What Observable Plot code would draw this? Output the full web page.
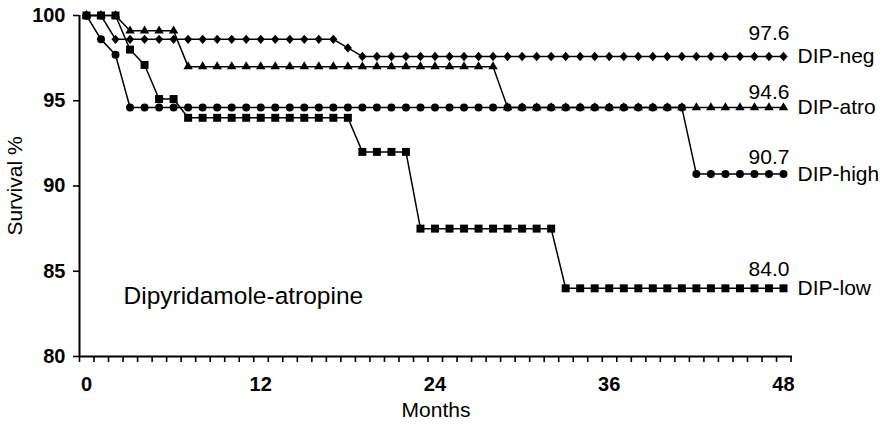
<!DOCTYPE html>
<html>
<head>
<meta charset="utf-8">
<script src="https://cdn.jsdelivr.net/npm/d3@7"></script>
<script src="https://cdn.jsdelivr.net/npm/@observablehq/plot@0.6"></script>
<style>
  html, body { margin: 0; padding: 0; background: #fff; }
  #chart svg { display: block; }
</style>
</head>
<body>
<div id="chart"></div>
<script>
// Follow-up month of each survival estimate
const months = [
  0, 1, 2, 3, 4, 5, 6, 7, 8, 9, 10, 11, 12, 13, 14, 15, 16, 17, 18, 19, 20, 21, 22, 23, 24,
  25, 26, 27, 28, 29, 30, 31, 32, 33, 34, 35, 36, 37, 38, 39, 40, 41, 42, 43, 44, 45, 46, 47, 48
];

// Survival % per month, one list per group
const dipNeg = [
  100, 100, 98.6, 98.6, 98.6, 98.6, 98.6, 98.6, 98.6, 98.6, 98.6, 98.6, 98.6, 98.6, 98.6, 98.6, 98.6, 98.6,
  98.1, 97.6, 97.6, 97.6, 97.6, 97.6, 97.6, 97.6, 97.6, 97.6, 97.6, 97.6, 97.6, 97.6, 97.6, 97.6, 97.6,
  97.6, 97.6, 97.6, 97.6, 97.6, 97.6, 97.6, 97.6, 97.6, 97.6, 97.6, 97.6, 97.6, 97.6
];
const dipAtro = [
  100, 100, 100, 99.1, 99.1, 99.1, 99.1, 97.0, 97.0, 97.0, 97.0, 97.0, 97.0, 97.0, 97.0, 97.0, 97.0, 97.0,
  97.0, 97.0, 97.0, 97.0, 97.0, 97.0, 97.0, 97.0, 97.0, 97.0, 97.0, 94.6, 94.6, 94.6, 94.6, 94.6, 94.6,
  94.6, 94.6, 94.6, 94.6, 94.6, 94.6, 94.6, 94.6, 94.6, 94.6, 94.6, 94.6, 94.6, 94.6
];
const dipHigh = [
  100, 98.6, 97.7, 94.6, 94.6, 94.6, 94.6, 94.6, 94.6, 94.6, 94.6, 94.6, 94.6, 94.6, 94.6, 94.6, 94.6, 94.6,
  94.6, 94.6, 94.6, 94.6, 94.6, 94.6, 94.6, 94.6, 94.6, 94.6, 94.6, 94.6, 94.6, 94.6, 94.6, 94.6, 94.6,
  94.6, 94.6, 94.6, 94.6, 94.6, 94.6, 94.6, 90.7, 90.7, 90.7, 90.7, 90.7, 90.7, 90.7
];
const dipLow = [
  100, 100, 100, 98.0, 97.1, 95.1, 95.1, 94.0, 94.0, 94.0, 94.0, 94.0, 94.0, 94.0, 94.0, 94.0, 94.0, 94.0,
  94.0, 92.0, 92.0, 92.0, 92.0, 87.5, 87.5, 87.5, 87.5, 87.5, 87.5, 87.5, 87.5, 87.5, 87.5, 84.0, 84.0,
  84.0, 84.0, 84.0, 84.0, 84.0, 84.0, 84.0, 84.0, 84.0, 84.0, 84.0, 84.0, 84.0, 84.0
];

const seriesNames = ["DIP-neg", "DIP-atro", "DIP-high", "DIP-low"];
const finalLabels = ["97.6", "94.6", "90.7", "84.0"];
const xTickLabels = [0, 12, 24, 36, 48];
const yTicks = [80, 85, 90, 95, 100];
const panelTitle = "Dipyridamole-atropine";

// ---- table built from the lists above ----
const seriesValues = [dipNeg, dipAtro, dipHigh, dipLow];
const rows = seriesNames.flatMap((name, i) =>
  months.map((m, j) => ({series: name, month: m, value: seriesValues[i][j]}))
);
const ends = seriesNames.map((name, i) => ({
  series: name,
  month: months[months.length - 1],
  value: seriesValues[i][seriesValues[i].length - 1],
  label: finalLabels[i]
}));

// marker shapes
const diamond = {
  draw(context, size) {
    const r = Math.sqrt(size / Math.PI);
    context.moveTo(0, -r * 1.15);
    context.lineTo(r, 0);
    context.lineTo(0, r * 1.15);
    context.lineTo(-r, 0);
    context.closePath();
  }
};
const style = {
  "DIP-neg":  {symbol: diamond,    r: 4.1, labelDy: -23},
  "DIP-atro": {symbol: "triangle", r: 3.5, labelDy: -15},
  "DIP-high": {symbol: "circle",   r: 4.0, labelDy: -17},
  "DIP-low":  {symbol: "square",   r: 4.5, labelDy: -19}
};

const font = "'Liberation Sans', Arial, Helvetica, sans-serif";
const labelSize = 21;
const tickFontSize = 20;
const xDomain = [-0.48, 48.62];
const monthTicks = d3.range(50).map(k => xDomain[0] + k);

const marks = [
  // axis lines
  Plot.ruleY([80], {stroke: "black", strokeWidth: 2}),
  Plot.ruleX([xDomain[0]], {stroke: "black", strokeWidth: 2}),
  // monthly tick marks
  Plot.axisX({ticks: monthTicks, tickSize: 6, tickFormat: () => "", strokeWidth: 1.6, label: null}),
  // y tick marks
  Plot.axisY({ticks: yTicks, tickSize: 6, tickFormat: () => "", strokeWidth: 1.6, label: null}),
  // tick numbers
  Plot.text(xTickLabels, {x: d => d, frameAnchor: "bottom", dy: 34, text: d => String(d),
    fontSize: tickFontSize, fontWeight: "bold", fill: "black"}),
  Plot.text(yTicks, {y: d => d, frameAnchor: "left", dx: -14, textAnchor: "end", text: d => String(d),
    fontSize: tickFontSize, fontWeight: "bold", fill: "black"}),
  // survival curves
  Plot.line(rows, {x: "month", y: "value", z: "series", stroke: "black", strokeWidth: 1.5})
];

for (const name of ["DIP-high", "DIP-atro", "DIP-neg", "DIP-low"]) {
  const s = style[name];
  marks.push(Plot.dot(rows.filter(d => d.series === name), {
    x: "month", y: "value", symbol: () => s.symbol, r: s.r, fill: "black", stroke: "none"
  }));
  const e = ends.filter(d => d.series === name);
  marks.push(Plot.text(e, {x: "month", y: "value", text: "label", dx: 6, dy: s.labelDy,
    textAnchor: "end", fontSize: labelSize, fill: "black"}));
  marks.push(Plot.text(e, {x: "month", y: "value", text: "series", dx: 14,
    textAnchor: "start", fontSize: labelSize, fill: "black"}));
}

marks.push(
  Plot.text([panelTitle], {frameAnchor: "bottom-left", dx: 44, dy: -53, textAnchor: "start",
    fontSize: 24.5, fill: "black"}),
  Plot.text(["Months"], {frameAnchor: "bottom", dy: 60, fontSize: labelSize, fill: "black"}),
  Plot.text(["Survival %"], {frameAnchor: "left", dx: -64, rotate: -90, textAnchor: "middle",
    fontSize: labelSize, fill: "black"})
);

const chart = Plot.plot({
  width: 884,
  height: 428,
  marginLeft: 79,
  marginRight: 92,
  marginTop: 15,
  marginBottom: 72,
  style: {fontFamily: font, background: "white", color: "black", overflow: "visible"},
  x: {domain: xDomain, label: null},
  y: {domain: [80, 100], label: null},
  marks
});

document.getElementById("chart").append(chart);
</script>
</body>
</html>
